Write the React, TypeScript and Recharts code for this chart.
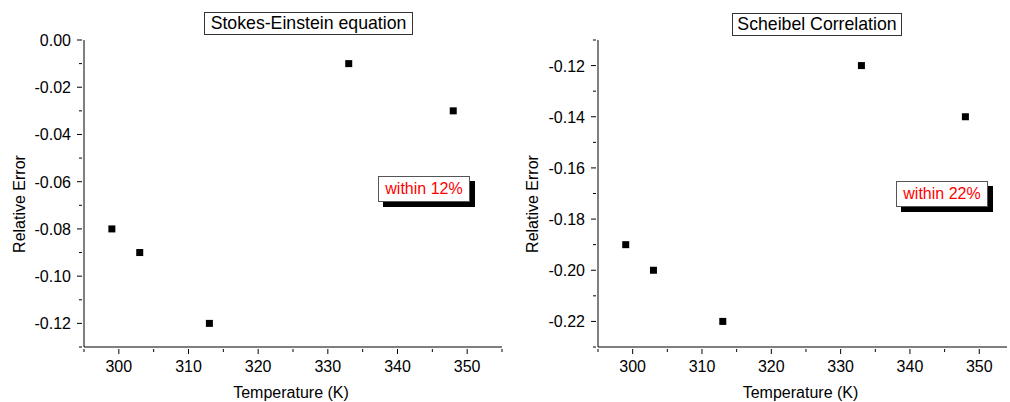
import { ScatterChart, Scatter, XAxis, YAxis, ZAxis } from 'recharts';

const temperatures = [299, 303, 313, 333, 348];
const stokesErrors = [-0.08, -0.09, -0.12, -0.01, -0.03];
const scheibelErrors = [-0.19, -0.2, -0.22, -0.12, -0.14];

const xTicks = [295, 300, 305, 310, 315, 320, 325, 330, 335, 340, 345, 350, 355];
const stokesTicks = [-0.13, -0.12, -0.11, -0.1, -0.09, -0.08, -0.07, -0.06, -0.05, -0.04, -0.03, -0.02, -0.01, 0];
const scheibelTicks = [-0.23, -0.22, -0.21, -0.2, -0.19, -0.18, -0.17, -0.16, -0.15, -0.14, -0.13, -0.12, -0.11];

const FONT = '"Liberation Sans", Arial, sans-serif';

const toPoints = (ys: number[]) => temperatures.map((x, i) => ({ x, y: ys[i] }));

function XTick({ x, y, payload }: any) {
  const v = payload.value;
  const major = v % 10 === 0;
  return (
    <g>
      <line x1={x} y1={y} x2={x} y2={y + (major ? 5 : 3)} stroke="#000" />
      {major && (
        <text x={x} y={y + 23} textAnchor="middle" fontSize={16} fill="#000" fontFamily={FONT}>
          {v}
        </text>
      )}
    </g>
  );
}

function YTick({ x, y, payload }: any) {
  const v = payload.value;
  const major = Math.round(Math.abs(v) * 100) % 2 === 0;
  return (
    <g>
      <line x1={x - (major ? 5 : 3)} y1={y} x2={x} y2={y} stroke="#000" />
      {major && (
        <text x={x - 11} y={y + 6} textAnchor="end" fontSize={16} fill="#000" fontFamily={FONT}>
          {v.toFixed(2)}
        </text>
      )}
    </g>
  );
}

const Square = (props: any) => (
  <rect x={props.cx - 3.5} y={props.cy - 3.5} width={7} height={7} fill="#000" />
);

interface PanelProps {
  left: number;
  axisWidth: number;
  xDomain: [number, number];
  yTicks: number[];
  values: number[];
  title: string;
  titleBox: { left: number; top: number; width: number };
  note: string;
  noteBox: { left: number; top: number };
  labelX: number;
}

function Panel(p: PanelProps) {
  const ticksX = xTicks.filter((t) => t >= p.xDomain[0] && t <= p.xDomain[1]);
  return (
    <div style={{ position: 'absolute', left: p.left, top: 0, width: 505, height: 402 }}>
      <ScatterChart width={505} height={402} margin={{ top: 40, right: 3, bottom: 0, left: 0 }}>
        <XAxis
          type="number"
          dataKey="x"
          domain={p.xDomain}
          ticks={ticksX}
          interval={0}
          height={55}
          tickSize={0}
          tickLine={false}
          axisLine={{ stroke: '#000' }}
          tick={<XTick />}
          allowDataOverflow
          label={{
            content: ({ viewBox }: any) => (
              <text
                x={viewBox.x + viewBox.width / 2 - 2}
                y={viewBox.y + 51}
                textAnchor="middle"
                fontSize={16}
                fill="#000"
                fontFamily={FONT}
              >
                Temperature (K)
              </text>
            ),
          }}
        />
        <YAxis
          type="number"
          dataKey="y"
          domain={[p.yTicks[0], p.yTicks[p.yTicks.length - 1]]}
          ticks={p.yTicks}
          interval={0}
          width={p.axisWidth}
          tickSize={0}
          tickLine={false}
          axisLine={{ stroke: '#000' }}
          tick={<YTick />}
          allowDataOverflow
          label={{
            content: () => (
              <text
                x={p.labelX}
                y={204}
                transform={`rotate(-90, ${p.labelX}, 204)`}
                textAnchor="middle"
                fontSize={16}
                fill="#000"
                fontFamily={FONT}
              >
                Relative Error
              </text>
            ),
          }}
        />
        <ZAxis range={[49, 49]} />
        <Scatter data={toPoints(p.values)} shape={<Square />} isAnimationActive={false} />
      </ScatterChart>
      <div
        style={{
          position: 'absolute',
          left: p.titleBox.left,
          top: p.titleBox.top,
          width: p.titleBox.width,
          height: 23,
          boxSizing: 'border-box',
          border: '1px solid #333',
          background: '#fff',
          fontFamily: FONT,
          fontSize: 17.7,
          lineHeight: '21px',
          textAlign: 'center',
          color: '#000',
        }}
      >
        {p.title}
      </div>
      <div
        style={{
          position: 'absolute',
          left: p.noteBox.left,
          top: p.noteBox.top,
          width: 92,
          height: 26,
          boxSizing: 'border-box',
          border: '1px solid #555',
          background: '#fff',
          boxShadow: '5px 5px 0 #000',
          fontFamily: FONT,
          fontSize: 16,
          lineHeight: '24px',
          textAlign: 'center',
          color: '#ff0000',
        }}
      >
        {p.note}
      </div>
    </div>
  );
}

export default function App() {
  return (
    <div style={{ position: 'absolute', left: 0, top: 0, width: 1010, height: 402, background: '#fff', overflow: 'hidden' }}>
      <Panel
        left={0}
        axisWidth={84}
        xDomain={[295, 355]}
        yTicks={stokesTicks}
        values={stokesErrors}
        title="Stokes-Einstein equation"
        titleBox={{ left: 204, top: 12, width: 209 }}
        note="within 12%"
        noteBox={{ left: 378, top: 176 }}
        labelX={25}
      />
      <Panel
        left={505}
        axisWidth={93}
        xDomain={[295, 354]}
        yTicks={scheibelTicks}
        values={scheibelErrors}
        title="Scheibel Correlation"
        titleBox={{ left: 227, top: 13, width: 170 }}
        note="within 22%"
        noteBox={{ left: 391, top: 181 }}
        labelX={33}
      />
    </div>
  );
}
